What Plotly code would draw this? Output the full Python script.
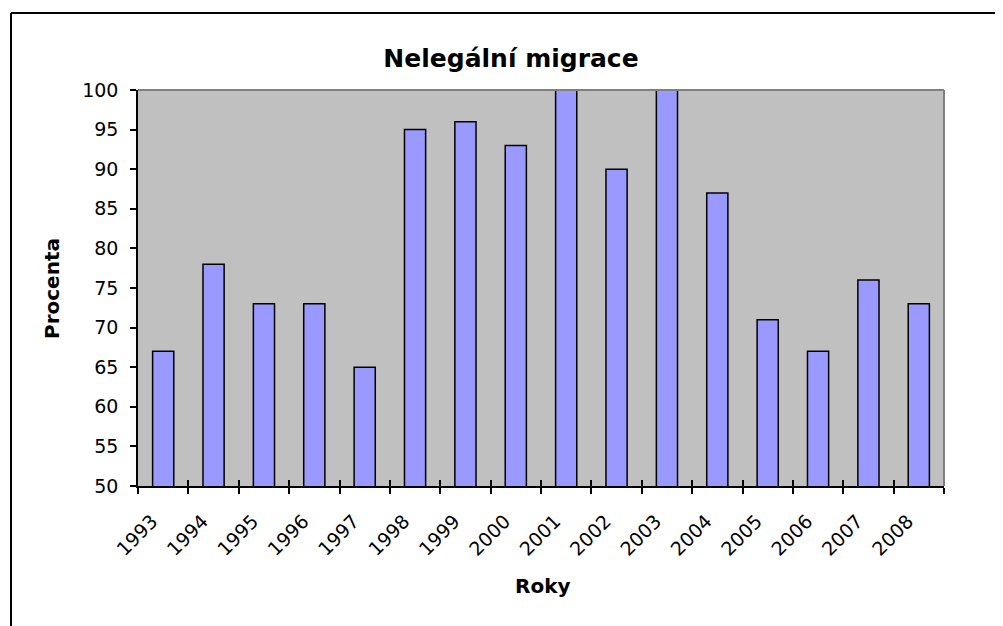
import plotly.graph_objects as go

years = ["1993", "1994", "1995", "1996", "1997", "1998", "1999", "2000",
         "2001", "2002", "2003", "2004", "2005", "2006", "2007", "2008"]
values = [67, 78, 73, 73, 65, 95, 96, 93, 100, 90, 100, 87, 71, 67, 76, 73]
y_ticks = [50, 55, 60, 65, 70, 75, 80, 85, 90, 95, 100]

# page body margin offset (8px) compensation
OFF = 8
W, H = 1003 - OFF, 626 - OFF
L, T = 138 - OFF, 90 - OFF
R = W - (944 - OFF)
B = H - (486 - OFF)
pw, ph = W - L - R, H - T - B


def px_x(x):
    return (x - OFF - L) / pw


def px_y(y):
    return (H - B - (y - OFF)) / ph


FONT = "DejaVu Sans"
n = len(years)
boundaries = [i - 0.5 for i in range(n + 1)]

fig = go.Figure()
fig.add_trace(go.Bar(
    x=years, y=values,
    marker=dict(color="#9999FF", line=dict(color="black", width=1.5)),
    hoverinfo="x+y",
))
# empty helper trace so that the overlay axis (inner tick halves) is drawn
fig.add_trace(go.Scatter(x=[], y=[], xaxis="x2", yaxis="y", mode="markers",
                         hoverinfo="skip", showlegend=False))

fig.update_layout(
    width=W, height=H,
    margin=dict(l=L, r=R, t=T, b=B, autoexpand=False),
    paper_bgcolor="white",
    plot_bgcolor="#C0C0C0",
    bargap=0.58,
    showlegend=False,
    font=dict(family=FONT, color="black", size=19),
    title=dict(text="<b>Nelegální migrace</b>", xref="container", yref="container",
               x=(511 - OFF) / W, y=1 - (58 - OFF) / H, xanchor="center", yanchor="middle",
               font=dict(family=FONT, size=25, color="black")),
    xaxis=dict(
        type="category", showline=True, linecolor="black", linewidth=1.5,
        ticks="outside", tickson="boundaries", ticklen=6, tickcolor="black",
        tickwidth=1.5, tickangle=-45, ticklabelshift=-11, ticklabelstandoff=15,
        tickfont=dict(family=FONT, size=19, color="black"),
        showgrid=False, zeroline=False, fixedrange=True,
    ),
    xaxis2=dict(
        overlaying="x", anchor="y", side="bottom", range=[-0.5, n - 0.5],
        tickvals=boundaries, ticks="inside", ticklen=6, tickcolor="black",
        tickwidth=1.5, showticklabels=False, showline=False, showgrid=False,
        zeroline=False, fixedrange=True,
    ),
    yaxis=dict(
        range=[50, 100], tickvals=y_ticks, showline=True, linecolor="black",
        linewidth=1.5, ticks="outside", ticklen=6, tickcolor="black", tickwidth=1.5,
        ticklabelstandoff=8,
        tickfont=dict(family=FONT, size=19, color="black"),
        showgrid=False, zeroline=False, fixedrange=True,
    ),
    shapes=[
        # plot area top/right border (grey)
        dict(type="line", xref="paper", yref="paper", x0=0, x1=1, y0=1, y1=1,
             line=dict(color="#808080", width=2)),
        dict(type="line", xref="paper", yref="paper", x0=1, x1=1, y0=0, y1=1,
             line=dict(color="#808080", width=2)),
        # chart area frame
        dict(type="line", xref="paper", yref="paper", x0=px_x(11), x1=px_x(11),
             y0=px_y(13), y1=px_y(640), line=dict(color="black", width=2)),
        dict(type="line", xref="paper", yref="paper", x0=px_x(11), x1=px_x(1020),
             y0=px_y(13), y1=px_y(13), line=dict(color="black", width=2)),
    ],
    annotations=[
        dict(text="<b>Procenta</b>", xref="paper", yref="paper",
             x=px_x(52), y=px_y(289), textangle=-90, showarrow=False,
             xanchor="center", yanchor="middle",
             font=dict(family=FONT, size=20, color="black")),
        dict(text="<b>Roky</b>", xref="paper", yref="paper",
             x=px_x(542), y=px_y(586), showarrow=False,
             xanchor="center", yanchor="middle",
             font=dict(family=FONT, size=20, color="black")),
    ],
)

fig.write_html("out.html")
